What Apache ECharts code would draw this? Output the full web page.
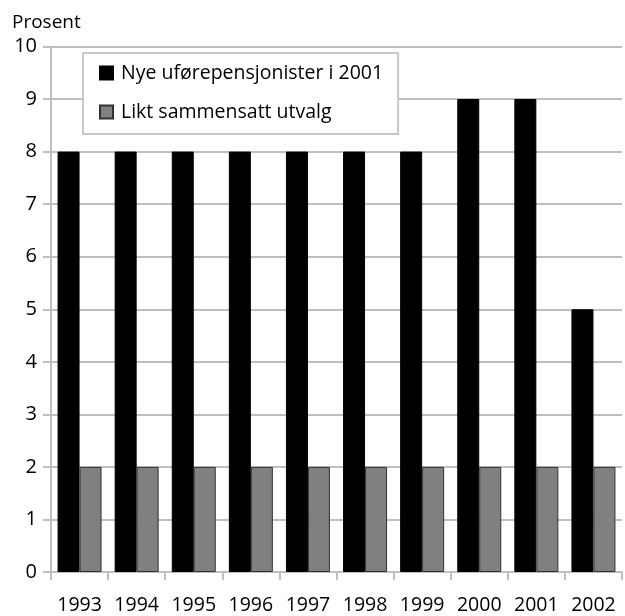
<!DOCTYPE html>
<html>
<head>
<meta charset="utf-8">
<script src="https://cdn.jsdelivr.net/npm/echarts@6/dist/echarts.min.js"></script>
<style>
  html, body { margin: 0; padding: 0; background: #fff; }
  #chart { width: 625px; height: 616px; }
</style>
</head>
<body>
<div id="chart"></div>
<script>
const years = ['1993', '1994', '1995', '1996', '1997', '1998', '1999', '2000', '2001', '2002']
const nyeUfore = [8, 8, 8, 8, 8, 8, 8, 9, 9, 5]
const liktUtvalg = [2, 2, 2, 2, 2, 2, 2, 2, 2, 2]
const seriesNames = ['Nye uførepensjonister i 2001', 'Likt sammensatt utvalg']

const font = 'Open Sans'
const axisGray = '#bfbfbf'

const myChart = echarts.init(document.getElementById('chart'))

const option = {
  animation: false,
  textStyle: { fontFamily: font },
  title: {
    text: 'Prosent',
    left: 7,
    top: 8,
    textStyle: { fontFamily: font, fontSize: 19, fontWeight: 'normal', color: '#000' }
  },
  legend: {
    data: seriesNames,
    orient: 'vertical',
    left: 83,
    top: 53,
    padding: [10, 15, 12, 16],
    itemGap: 19,
    itemWidth: 13,
    itemHeight: 13,
    icon: 'rect',
    backgroundColor: '#fff',
    borderColor: '#c8c8c8',
    borderWidth: 2,
    textStyle: { fontFamily: font, fontSize: 19.5, color: '#000', padding: [0, 0, 0, 3] },
    z: 10
  },
  grid: {
    left: 51,
    right: 3,
    top: 46.5,
    bottom: 44,
    containLabel: false
  },
  xAxis: {
    type: 'category',
    data: years,
    axisLine: { lineStyle: { color: axisGray, width: 2 } },
    axisTick: { show: true, interval: 0, length: 8, lineStyle: { color: axisGray, width: 2 } },
    axisLabel: { interval: 0, color: '#000', fontSize: 19.5, fontFamily: font, margin: 23 }
  },
  yAxis: {
    type: 'value',
    min: 0,
    max: 10,
    interval: 1,
    axisLine: { show: true, lineStyle: { color: axisGray, width: 2 } },
    axisTick: { show: true, length: 8, lineStyle: { color: axisGray, width: 2 } },
    splitLine: { lineStyle: { color: axisGray, width: 2 } },
    axisLabel: { color: '#000', fontSize: 20, fontFamily: font, margin: 14 }
  },
  series: [
    {
      name: seriesNames[0],
      type: 'bar',
      data: nyeUfore,
      barWidth: 22,
      barGap: '0%',
      itemStyle: { color: '#000', borderColor: '#000', borderWidth: 1 }
    },
    {
      name: seriesNames[1],
      type: 'bar',
      data: liktUtvalg,
      barWidth: 22,
      barGap: '0%',
      itemStyle: { color: '#808080', borderColor: '#333', borderWidth: 1 }
    }
  ]
}

myChart.setOption(option)
</script>
</body>
</html>
